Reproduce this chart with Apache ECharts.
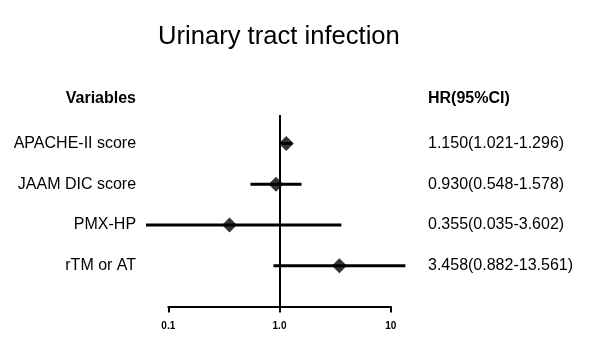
<!DOCTYPE html>
<html><head><meta charset="utf-8">
<script src="https://cdn.jsdelivr.net/npm/echarts@6/dist/echarts.min.js"></script>
<style>html,body{margin:0;padding:0;background:#fff}#c{width:591px;height:353px}</style>
</head><body><div id="c"></div>
<script>
const variables = ['APACHE-II score', 'JAAM DIC score', 'PMX-HP', 'rTM or AT'];
const hr = [1.150, 0.930, 0.355, 3.458];
const lower = [1.021, 0.548, 0.035, 0.882];
const upper = [1.296, 1.578, 3.602, 13.561];
const hrText = ['1.150(1.021-1.296)', '0.930(0.548-1.578)', '0.355(0.035-3.602)', '3.458(0.882-13.561)'];
const tickValues = [0.1, 1, 10];
const tickLabels = ['0.1', '1.0', '10'];
const title = 'Urinary tract infection';
const headers = ['Variables', 'HR(95%CI)'];

const FONT = '"Liberation Sans", Arial, Helvetica, sans-serif';
const rows = variables.map((v, i) => i + 1);
const chart = echarts.init(document.getElementById('c'));

const ciData = rows.map((r, i) => [lower[i], upper[i], r]);
const ptData = rows.map((r, i) => [hr[i], r]);
const txtData = rows.map((r, i) => [1, r, i]);

chart.setOption({
  animation: false,
  backgroundColor: '#fff',
  graphic: [
    { type: 'text', left: 158, top: 24, style: { text: title, font: '25.6px ' + FONT, fill: '#000' } },
    { type: 'text', right: 591 - 136, top: 91, style: { text: headers[0], font: 'bold 16px ' + FONT, fill: '#000' } },
    { type: 'text', left: 428, top: 91, style: { text: headers[1], font: 'bold 16px ' + FONT, fill: '#000' } }
  ],
  grid: [
    { left: 146.1, right: 591 - 412.9, top: 115, bottom: 353 - 306.5 },
    { left: 168.3, width: 222.4, top: 115, bottom: 353 - 306.5 }
  ],
  xAxis: [
    { gridIndex: 0, type: 'log', logBase: 10, min: Math.pow(10, -1.2), max: Math.pow(10, 1.2), show: false },
    { gridIndex: 1, type: 'log', logBase: 10, min: 0.1, max: 10,
      axisLine: { show: true, lineStyle: { color: '#000', width: 2 } },
      axisTick: { show: true, length: 6, lineStyle: { color: '#000', width: 2 } },
      splitLine: { show: false }, minorTick: { show: false },
      axisLabel: { margin: 15, fontFamily: FONT, fontSize: 10, fontWeight: 'bold', color: '#000',
        formatter: v => { const k = tickValues.findIndex(t => Math.abs(t - v) < 1e-9); return k >= 0 ? tickLabels[k] : ''; } } }
  ],
  yAxis: [
    { gridIndex: 0, type: 'value', min: 0.3, max: 5, inverse: true, show: false },
    { gridIndex: 1, type: 'value', min: 0.3, max: 5, inverse: true, show: false }
  ],
  series: [
    { type: 'line', xAxisIndex: 0, yAxisIndex: 0, data: [], silent: true,
      markLine: { symbol: 'none', silent: true, label: { show: false },
        lineStyle: { color: '#000', width: 2, type: 'solid' }, data: [{ xAxis: 1 }] } },
    { type: 'custom', xAxisIndex: 0, yAxisIndex: 0, clip: true, data: ciData,
      renderItem: (params, api) => {
        const a = api.coord([api.value(0), api.value(2)]);
        const b = api.coord([api.value(1), api.value(2)]);
        return { type: 'line', shape: { x1: a[0], y1: a[1], x2: b[0], y2: b[1] },
          style: { stroke: '#000', lineWidth: 3 } };
      } },
    { type: 'scatter', xAxisIndex: 0, yAxisIndex: 0, symbol: 'diamond', symbolSize: 15,
      itemStyle: { color: '#000' }, data: ptData, z: 5 },
    { type: 'custom', xAxisIndex: 0, yAxisIndex: 0, clip: false, data: txtData,
      renderItem: (params, api) => {
        const cs = params.coordSys;
        const p = api.coord([1, api.value(1)]);
        const i = api.value(2);
        return { type: 'group', children: [
          { type: 'text', x: cs.x - 10, y: p[1], style: { text: variables[i], font: '16px ' + FONT, fill: '#000', textAlign: 'right', textVerticalAlign: 'middle' } },
          { type: 'text', x: 428, y: p[1], style: { text: hrText[i], font: '16px ' + FONT, fill: '#000', textAlign: 'left', textVerticalAlign: 'middle' } }
        ] };
      } }
  ]
});
</script></body></html>
